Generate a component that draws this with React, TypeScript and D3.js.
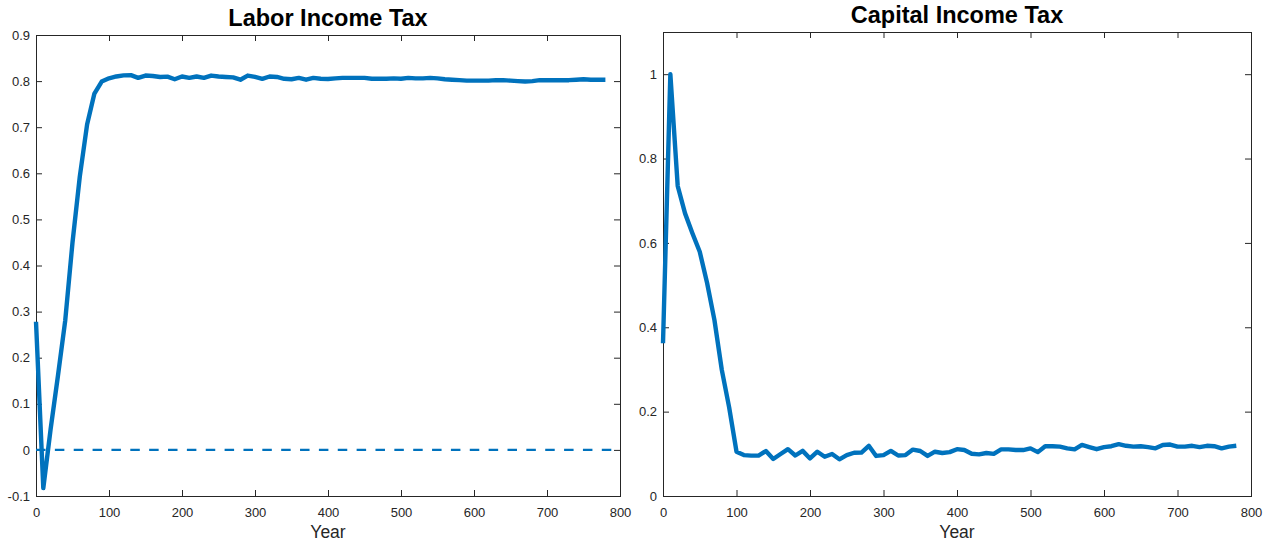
import React, { useEffect, useRef } from 'react';
import * as d3 from 'd3';

// years sampled every 10
const years = [
  0, 10, 20, 30, 40, 50, 60, 70, 80, 90,
  100, 110, 120, 130, 140, 150, 160, 170, 180, 190,
  200, 210, 220, 230, 240, 250, 260, 270, 280, 290,
  300, 310, 320, 330, 340, 350, 360, 370, 380, 390,
  400, 410, 420, 430, 440, 450, 460, 470, 480, 490,
  500, 510, 520, 530, 540, 550, 560, 570, 580, 590,
  600, 610, 620, 630, 640, 650, 660, 670, 680, 690,
  700, 710, 720, 730, 740, 750, 760, 770, 780,
];

const laborTax = [
  0.278, -0.083, 0.045, 0.160, 0.280, 0.450, 0.593, 0.706, 0.773, 0.799,
  0.806, 0.810, 0.8125, 0.813, 0.807, 0.812, 0.811, 0.809, 0.8096, 0.804,
  0.810, 0.807, 0.810, 0.807, 0.812, 0.810, 0.809, 0.808, 0.803, 0.812,
  0.809, 0.805, 0.810, 0.809, 0.805, 0.804, 0.807, 0.803, 0.807, 0.805,
  0.8045, 0.806, 0.807, 0.807, 0.807, 0.807, 0.805, 0.805, 0.805, 0.806,
  0.805, 0.807, 0.806, 0.806, 0.807, 0.806, 0.804, 0.803, 0.802, 0.801,
  0.801, 0.801, 0.801, 0.802, 0.802, 0.801, 0.800, 0.799, 0.800, 0.802,
  0.802, 0.802, 0.802, 0.802, 0.803, 0.804, 0.803, 0.803, 0.803,
];

const capitalTax = [
  0.362, 1.0, 0.735, 0.67, 0.623, 0.579, 0.505, 0.417, 0.299, 0.21,
  0.105, 0.097, 0.0956, 0.096, 0.1066, 0.0877, 0.0995, 0.111, 0.096, 0.107,
  0.089, 0.105, 0.093, 0.0995, 0.087, 0.097, 0.1026, 0.103, 0.119, 0.095,
  0.097, 0.107, 0.096, 0.097, 0.110, 0.1066, 0.095, 0.105, 0.102, 0.104,
  0.111, 0.109, 0.100, 0.0987, 0.102, 0.100, 0.1105, 0.1105, 0.109, 0.109,
  0.113, 0.104, 0.118, 0.118, 0.117, 0.113, 0.1105, 0.121, 0.116, 0.111,
  0.116, 0.118, 0.123, 0.119, 0.117, 0.118, 0.116, 0.113, 0.121, 0.122,
  0.117, 0.117, 0.119, 0.116, 0.119, 0.118, 0.113, 0.117, 0.119,
];

const xTicks = [0, 100, 200, 300, 400, 500, 600, 700, 800];
const laborTicks = [-0.1, 0, 0.1, 0.2, 0.3, 0.4, 0.5, 0.6, 0.7, 0.8, 0.9];
const capitalTicks = [0, 0.2, 0.4, 0.6, 0.8, 1];

const BLUE = '#0072BD';
const AXIS = '#262626';
const FONT = '"Liberation Sans", Arial, Helvetica, sans-serif';

function drawPanel(svg, opts) {
  const {
    left, right, top, bottom, yDomain, yTicks, values, title, titleY, zeroLine,
  } = opts;
  const x = d3.scaleLinear().domain([0, 800]).range([left, right]);
  const y = d3.scaleLinear().domain(yDomain).range([bottom, top]);
  const g = svg.append('g');

  const styleAxis = (sel) => {
    sel.select('.domain').remove();
    sel.attr('font-family', FONT).attr('font-size', 13);
    sel.selectAll('line').attr('stroke', AXIS);
    sel.selectAll('text').attr('fill', AXIS);
  };

  // bottom + left axes with labels, ticks pointing inward
  g.append('g')
    .attr('transform', `translate(0,${bottom})`)
    .call(d3.axisBottom(x).tickValues(xTicks).tickSize(-6).tickPadding(12)
      .tickFormat((d) => String(d)))
    .call(styleAxis);
  g.append('g')
    .attr('transform', `translate(${left},0)`)
    .call(d3.axisLeft(y).tickValues(yTicks).tickSize(-6).tickPadding(6)
      .tickFormat((d) => String(d)))
    .call(styleAxis);
  // mirrored ticks on top and right
  g.append('g')
    .attr('transform', `translate(0,${top})`)
    .call(d3.axisTop(x).tickValues(xTicks).tickSize(-6).tickFormat(() => ''))
    .call(styleAxis);
  g.append('g')
    .attr('transform', `translate(${right},0)`)
    .call(d3.axisRight(y).tickValues(yTicks).tickSize(-6).tickFormat(() => ''))
    .call(styleAxis);

  // box
  g.append('rect')
    .attr('x', left + 0.5)
    .attr('y', top + 0.5)
    .attr('width', right - left)
    .attr('height', bottom - top)
    .attr('fill', 'none')
    .attr('stroke', AXIS)
    .attr('stroke-width', 1);

  if (zeroLine) {
    g.append('line')
      .attr('x1', x(0))
      .attr('x2', x(800))
      .attr('y1', y(0))
      .attr('y2', y(0))
      .attr('stroke', BLUE)
      .attr('stroke-width', 2.4)
      .attr('stroke-dasharray', '9.5 9.36');
  }

  const line = d3.line()
    .x((d, i) => x(years[i]))
    .y((d) => y(d));
  g.append('path')
    .datum(values)
    .attr('d', line)
    .attr('fill', 'none')
    .attr('stroke', BLUE)
    .attr('stroke-width', 4.4)
    .attr('stroke-linejoin', 'round');

  g.append('text')
    .attr('x', (left + right) / 2)
    .attr('y', titleY)
    .attr('text-anchor', 'middle')
    .attr('font-family', FONT)
    .attr('font-weight', 'bold')
    .attr('font-size', 23.5)
    .attr('fill', '#000')
    .text(title);

  g.append('text')
    .attr('x', (left + right) / 2)
    .attr('y', 538)
    .attr('text-anchor', 'middle')
    .attr('font-family', FONT)
    .attr('font-size', 17.5)
    .attr('fill', AXIS)
    .text('Year');
}

export default function App() {
  const ref = useRef(null);

  useEffect(() => {
    const svg = d3.select(ref.current);
    svg.selectAll('*').remove();
    drawPanel(svg, {
      left: 36,
      right: 620,
      top: 35,
      bottom: 496,
      yDomain: [-0.1, 0.9],
      yTicks: laborTicks,
      values: laborTax,
      title: 'Labor Income Tax',
      titleY: 26,
      zeroLine: true,
    });
    drawPanel(svg, {
      left: 663,
      right: 1251,
      top: 32,
      bottom: 496,
      yDomain: [0, 1.1],
      yTicks: capitalTicks,
      values: capitalTax,
      title: 'Capital Income Tax',
      titleY: 23,
      zeroLine: false,
    });
  }, []);

  return (
    <svg
      ref={ref}
      width={1273}
      height={546}
      style={{ position: 'absolute', left: 0, top: 0, background: '#fff' }}
    />
  );
}
